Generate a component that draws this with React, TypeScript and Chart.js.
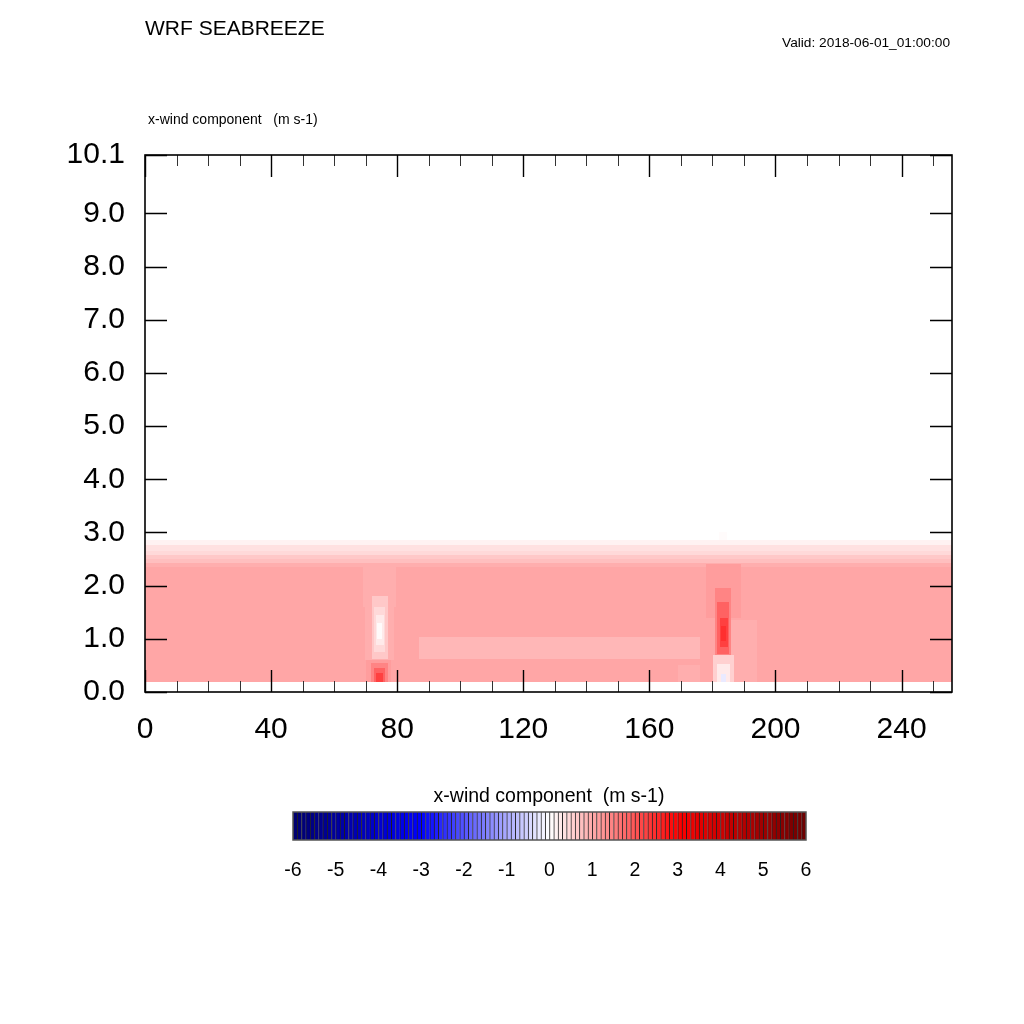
import React, { useEffect, useRef } from 'react';
import { Chart, registerables } from 'chart.js';

Chart.register(...registerables);

const FONT = '"Liberation Sans", Arial, Helvetica, sans-serif';

// Axes
const X_MIN = 0;
const X_MAX = 256;
const X_MAJOR = [0, 40, 80, 120, 160, 200, 240];
const X_MINOR = [10, 20, 30, 50, 60, 70, 90, 100, 110, 130, 140, 150, 170, 180, 190, 210, 220, 230, 250];
const Y_MIN = 0;
const Y_MAX = 10.1;
const Y_TICKS = [0, 1, 2, 3, 4, 5, 6, 7, 8, 9, 10.1];

// Colour bar levels (m s-1)
const CB_MIN = -6;
const CB_MAX = 6;
const CB_STEP = 0.1;
const CB_TICKS = [-6, -5, -4, -3, -2, -1, 0, 1, 2, 3, 4, 5, 6];
const CB_STOPS = [-6, -3, 0, 3, 6];
const CB_COLORS = [
  [0, 0, 110],
  [0, 0, 255],
  [255, 255, 255],
  [255, 0, 0],
  [110, 0, 0],
];

// Background x-wind profile by height (row edges, values in m s-1)
const BG_Y = [0.19, 2.35, 2.42, 2.5, 2.58, 2.66, 2.76, 2.86];
const BG_U = [1.0, 0.9, 0.75, 0.6, 0.45, 0.3, 0.15];

// Local features: [x0, x1, y0, y1, u]
const MID_BAND: number[][] = [
  [87, 176, 0.62, 1.04, 0.88],
  [89, 174, 0.66, 1.0, 0.86],
];
const WEST_FRONT: number[][] = [
  [69, 79.5, 1.6, 2.4, 0.92],
  [69.8, 79, 0.6, 1.6, 0.92],
  [70, 78, 0.19, 0.6, 1.12],
  [72, 77, 0.62, 1.8, 0.6],
  [72.6, 76.2, 0.75, 1.6, 0.4],
  [73.2, 75.8, 0.88, 1.45, 0.22],
  [73.6, 75.2, 1.0, 1.3, 0.08],
  [71.8, 77, 0.19, 0.55, 1.45],
  [72.6, 76.2, 0.19, 0.45, 1.85],
  [73.2, 75.6, 0.19, 0.35, 2.2],
];
const EAST_FRONT: number[][] = [
  [178, 189, 1.4, 2.4, 1.1],
  [186, 194, 0.19, 1.35, 0.9],
  [169, 176, 0.19, 0.5, 0.9],
  [180.8, 186, 0.6, 1.95, 1.45],
  [181.5, 185.4, 0.72, 1.7, 1.85],
  [182.3, 184.8, 0.85, 1.4, 2.2],
  [182.8, 184.3, 0.95, 1.25, 2.45],
  [180.2, 187, 0.19, 0.7, 0.55],
  [181.4, 185.6, 0.19, 0.52, 0.25],
  [182.6, 184.4, 0.19, 0.33, -0.3],
  [182, 184.5, 2.86, 3.0, 0.05],
];

const CB_LEVELS: number[] = [];
for (let i = 0; i < Math.round((CB_MAX - CB_MIN) / CB_STEP); i++) CB_LEVELS.push(CB_MIN + (i + 0.5) * CB_STEP);

function rampColor(v: number): string {
  let k = 0;
  while (k < CB_STOPS.length - 2 && v > CB_STOPS[k + 1]) k++;
  const t = Math.max(0, Math.min(1, (v - CB_STOPS[k]) / (CB_STOPS[k + 1] - CB_STOPS[k])));
  const a = CB_COLORS[k];
  const b = CB_COLORS[k + 1];
  const c = a.map((av, j) => Math.round(av + (b[j] - av) * t));
  return `rgb(${c[0]},${c[1]},${c[2]})`;
}

function levelColor(u: number): string {
  const n = CB_LEVELS.length;
  const idx = Math.max(0, Math.min(n - 1, Math.floor((u - CB_MIN) / CB_STEP + 1e-9)));
  return rampColor(CB_LEVELS[idx]);
}

const fieldPlugin = {
  id: 'fieldPlugin',
  beforeDatasetsDraw(chart: any) {
    const { ctx, chartArea } = chart;
    const xs = chart.scales.x;
    const ys = chart.scales.y;
    ctx.save();
    ctx.beginPath();
    ctx.rect(chartArea.left, chartArea.top, chartArea.width, chartArea.height);
    ctx.clip();
    const fill = (x0: number, x1: number, y0: number, y1: number, u: number) => {
      const px0 = Math.round(xs.getPixelForValue(x0));
      const px1 = Math.round(xs.getPixelForValue(x1));
      const py0 = Math.round(ys.getPixelForValue(y1));
      const py1 = Math.round(ys.getPixelForValue(y0));
      ctx.fillStyle = levelColor(u);
      ctx.fillRect(px0, py0, px1 - px0, py1 - py0);
    };
    for (let i = 0; i < BG_U.length; i++) fill(X_MIN, X_MAX, BG_Y[i], BG_Y[i + 1], BG_U[i]);
    for (const p of [...MID_BAND, ...WEST_FRONT, ...EAST_FRONT]) fill(p[0], p[1], p[2], p[3], p[4]);
    ctx.restore();
  },
};

const framePlugin = {
  id: 'framePlugin',
  afterDraw(chart: any) {
    const { ctx, chartArea } = chart;
    const { left, right, top, bottom } = chartArea;
    const xs = chart.scales.x;
    const ys = chart.scales.y;
    ctx.save();
    ctx.strokeStyle = '#000';
    ctx.lineWidth = 1.4;
    ctx.beginPath();
    for (const v of X_MAJOR) {
      const px = Math.round(xs.getPixelForValue(v)) + 0.5;
      ctx.moveTo(px, bottom); ctx.lineTo(px, bottom - 22);
      ctx.moveTo(px, top); ctx.lineTo(px, top + 22);
    }
    for (const v of Y_TICKS) {
      const py = Math.round(ys.getPixelForValue(v)) + 0.5;
      ctx.moveTo(left, py); ctx.lineTo(left + 22, py);
      ctx.moveTo(right, py); ctx.lineTo(right - 22, py);
    }
    ctx.stroke();
    ctx.lineWidth = 1;
    ctx.strokeStyle = '#333';
    ctx.beginPath();
    for (const v of X_MINOR) {
      const px = Math.round(xs.getPixelForValue(v)) + 0.5;
      ctx.moveTo(px, bottom); ctx.lineTo(px, bottom - 11);
      ctx.moveTo(px, top); ctx.lineTo(px, top + 11);
    }
    ctx.stroke();
    ctx.lineWidth = 1.6;
    ctx.strokeStyle = '#000';
    ctx.strokeRect(left, top, right - left, bottom - top);
    ctx.restore();
  },
};

const cbFramePlugin = {
  id: 'cbFramePlugin',
  afterDraw(chart: any) {
    const { ctx, chartArea } = chart;
    ctx.save();
    ctx.strokeStyle = '#555';
    ctx.lineWidth = 1.5;
    ctx.strokeRect(chartArea.left, chartArea.top, chartArea.right - chartArea.left, chartArea.bottom - chartArea.top);
    ctx.restore();
  },
};

export default function App() {
  const mainRef = useRef<HTMLCanvasElement>(null);
  const cbRef = useRef<HTMLCanvasElement>(null);

  useEffect(() => {
    document.body.style.margin = '0';
    const main = new Chart(mainRef.current as HTMLCanvasElement, {
      type: 'scatter',
      data: { datasets: [] },
      options: {
        responsive: false,
        animation: false,
        devicePixelRatio: 1,
        layout: { padding: { left: 0, top: 155, right: 72, bottom: 272 } },
        plugins: { legend: { display: false }, tooltip: { enabled: false }, title: { display: false } },
        scales: {
          x: {
            type: 'linear',
            min: X_MIN,
            max: X_MAX,
            afterBuildTicks: (s: any) => { s.ticks = X_MAJOR.map((v) => ({ value: v })); },
            afterFit: (s: any) => { s.height = 60; s.paddingLeft = 0; s.paddingRight = 0; },
            grid: { display: false, drawTicks: false, tickLength: 0 },
            border: { display: false },
            ticks: {
              color: '#000',
              font: { family: FONT, size: 30 },
              padding: 20,
              maxRotation: 0,
              autoSkip: false,
              callback: (v: any) => String(v),
            },
          },
          y: {
            type: 'linear',
            min: Y_MIN,
            max: Y_MAX,
            afterBuildTicks: (s: any) => { s.ticks = Y_TICKS.map((v) => ({ value: v })); },
            afterFit: (s: any) => { s.width = 145; s.paddingTop = 0; s.paddingBottom = 0; },
            grid: { display: false, drawTicks: false, tickLength: 0 },
            border: { display: false },
            ticks: {
              color: '#000',
              font: { family: FONT, size: 30 },
              padding: 20,
              autoSkip: false,
              callback: (v: any) => (Number(v) === 10.1 ? '10.1' : Number(v).toFixed(1)),
            },
          },
        },
      },
      plugins: [fieldPlugin, framePlugin],
    } as any);

    const cb = new Chart(cbRef.current as HTMLCanvasElement, {
      type: 'bar',
      data: {
        datasets: [
          {
            data: CB_LEVELS.map((c) => ({ x: c, y: 1 })),
            backgroundColor: CB_LEVELS.map((c) => rampColor(c)),
            borderColor: 'rgba(0,0,0,0.85)',
            borderWidth: { left: 1, right: 0, top: 0, bottom: 0 },
            borderSkipped: false,
            barPercentage: 1,
            categoryPercentage: 1,
          },
        ],
      },
      options: {
        responsive: false,
        animation: false,
        devicePixelRatio: 1,
        layout: { padding: { left: 44, right: 43, top: 42, bottom: 0 } },
        plugins: { legend: { display: false }, tooltip: { enabled: false } },
        scales: {
          x: {
            type: 'linear',
            min: CB_MIN,
            max: CB_MAX,
            offset: false,
            afterBuildTicks: (s: any) => { s.ticks = CB_TICKS.map((v) => ({ value: v })); },
            afterFit: (s: any) => { s.height = 60; s.paddingLeft = 0; s.paddingRight = 0; },
            grid: { display: false, drawTicks: false, tickLength: 0, offset: false },
            border: { display: false },
            ticks: {
              color: '#000',
              font: { family: FONT, size: 19.5 },
              padding: 19,
              maxRotation: 0,
              autoSkip: false,
              callback: (v: any) => String(v),
            },
          },
          y: { display: false, min: 0, max: 1 },
        },
      },
      plugins: [cbFramePlugin],
    } as any);

    return () => {
      main.destroy();
      cb.destroy();
    };
  }, []);

  return (
    <div style={{ position: 'fixed', left: 0, top: 0, width: 1024, height: 1024, background: '#fff', fontFamily: FONT, color: '#000' }}>
      <canvas ref={mainRef} width={1024} height={1024} style={{ position: 'absolute', left: 0, top: 0 }} />
      <canvas ref={cbRef} width={600} height={130} style={{ position: 'absolute', left: 249, top: 770 }} />
      <div style={{ position: 'absolute', left: 145, top: 17, fontSize: 21, lineHeight: '21px', whiteSpace: 'pre' }}>WRF SEABREEZE</div>
      <div style={{ position: 'absolute', right: 74, top: 36, fontSize: 13.7, lineHeight: '14px', whiteSpace: 'pre' }}>Valid: 2018-06-01_01:00:00</div>
      <div style={{ position: 'absolute', left: 148, top: 112, fontSize: 14, lineHeight: '14px', whiteSpace: 'pre' }}>x-wind component   (m s-1)</div>
      <div style={{ position: 'absolute', left: 249, width: 600, top: 785, fontSize: 19.5, lineHeight: '20px', textAlign: 'center', whiteSpace: 'pre' }}>x-wind component  (m s-1)</div>
    </div>
  );
}
